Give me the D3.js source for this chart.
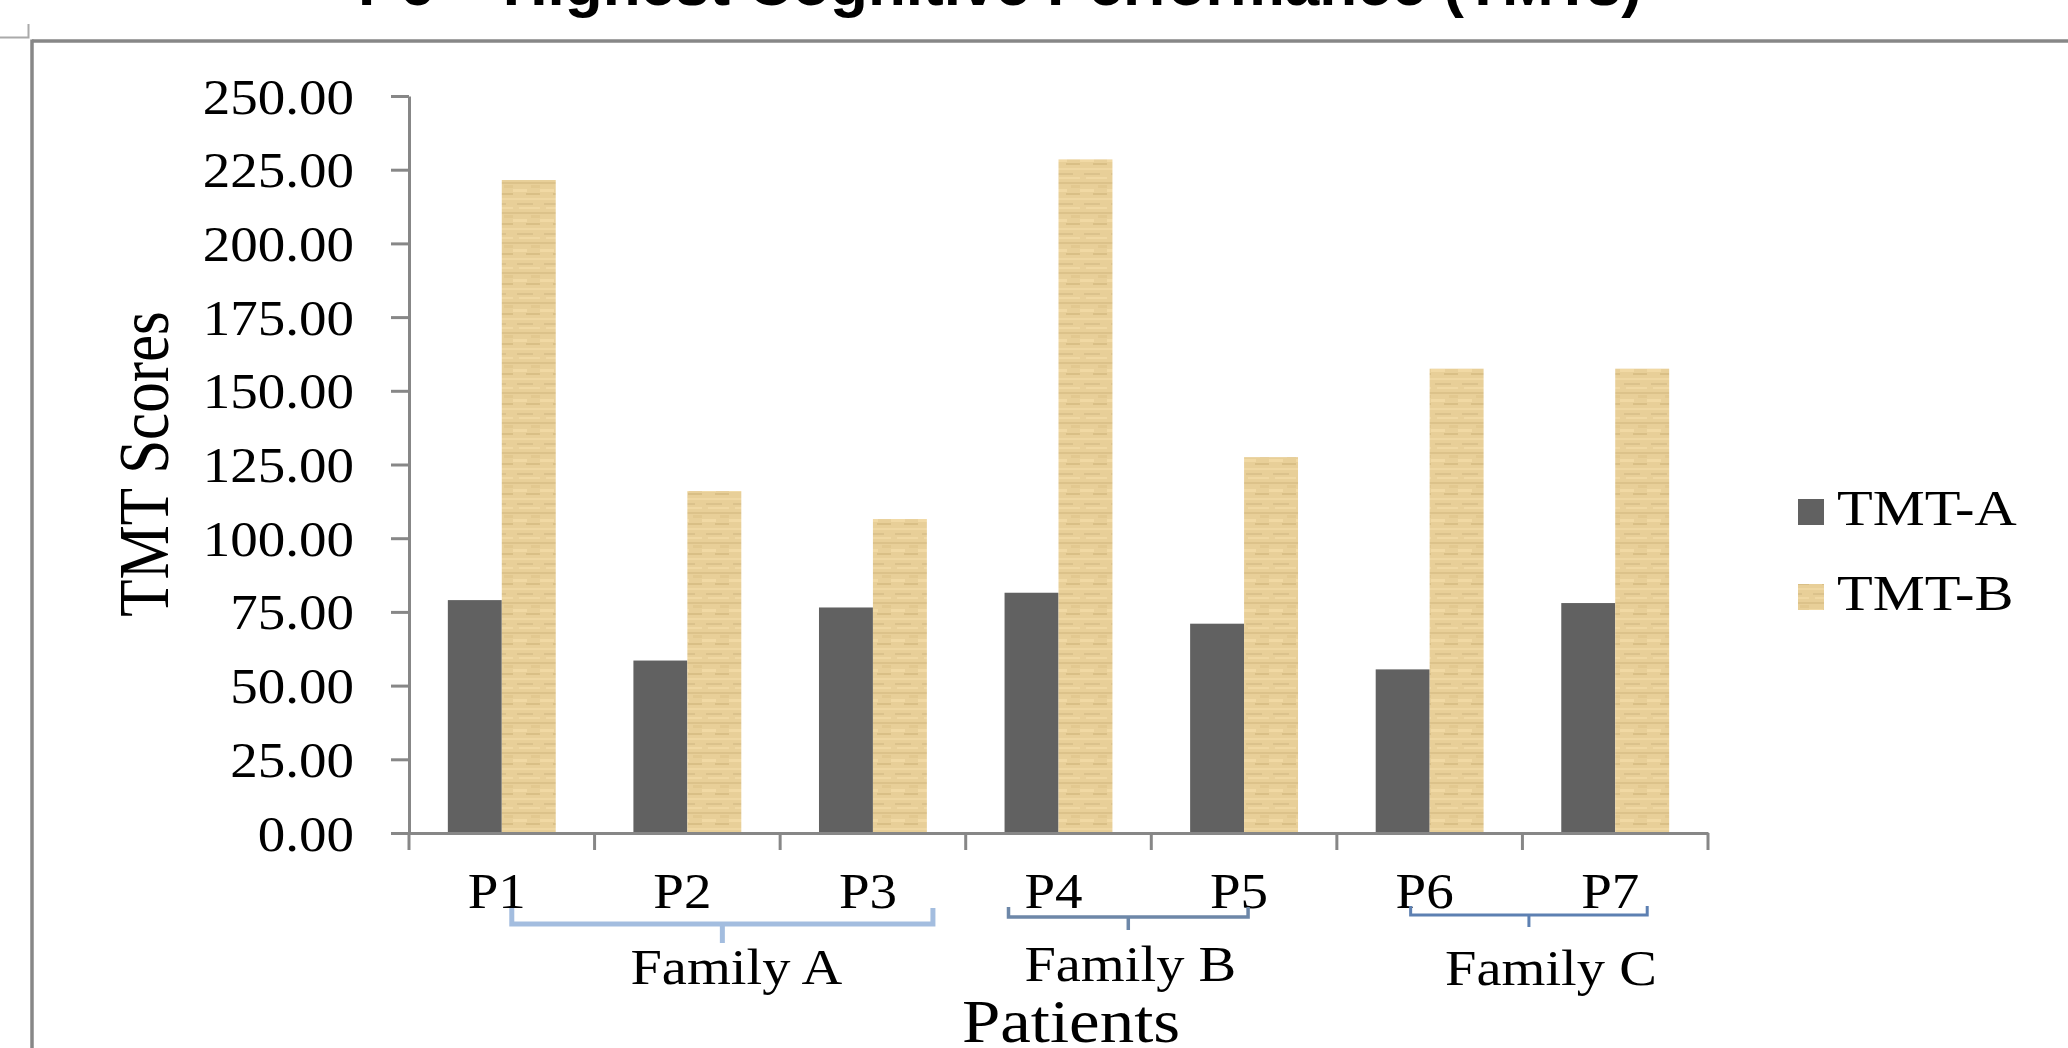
<!DOCTYPE html>
<html>
<head>
<meta charset="utf-8">
<script src="https://cdn.jsdelivr.net/npm/d3@7"></script>
<style>
  html, body { margin: 0; padding: 0; background: #ffffff; }
  svg { display: block; }
</style>
</head>
<body>
<script>
// ---------- data ----------
const categories = ["P1", "P2", "P3", "P4", "P5", "P6", "P7"];
const seriesNames = ["TMT-A", "TMT-B"];
const tmtA = [79, 58.5, 76.5, 81.5, 71, 55.5, 78];
const tmtB = [221.5, 116, 106.5, 228.5, 127.5, 157.5, 157.5];
const yTicks = [0, 25, 50, 75, 100, 125, 150, 175, 200, 225, 250];
const familyNames = ["Family A", "Family B", "Family C"];
const familyFirst = ["P1", "P4", "P6"];
const familyLast = ["P3", "P5", "P7"];
const titleText = "P6 \u2013 Highest Cognitive Performance (TMTs)";
const yTitle = "TMT Scores";
const xTitle = "Patients";

// ---------- layout / style ----------
const W = 2068, H = 1048;
const plot = { left: 409, right: 1708, top: 96, bottom: 833 };
const serif = "'Liberation Serif', 'Times New Roman', serif";
const axisColor = "#878787";
const colA = "#616161";
const sx = 1.1; // horizontal stretch of the source text
// bracket offsets (px from category centres) and styles, as hand-drawn in the source
const bracketStyle = [
  { l: 10, r: 60, y: 924, top: 908, tick: 943, color: "#a3bddf", w: 5, labelDx: 14, labelY: 984 },
  { l: -50, r: 4, y: 917, top: 907, tick: 930, color: "#6d87a8", w: 3.5, labelDx: 2, labelY: 981 },
  { l: -19, r: 32, y: 915, top: 906, tick: 927, color: "#5d80b2", w: 3, labelDx: 22, labelY: 985 }
];

const svg = d3.select("body").append("svg")
  .attr("width", W).attr("height", H)
  .style("background", "#fff");

// texture for TMT-B bars (papyrus-like)
const defs = svg.append("defs");
const pat = defs.append("pattern").attr("id", "papyrus")
  .attr("patternUnits", "userSpaceOnUse").attr("width", 27).attr("height", 30);
pat.append("rect").attr("width", 27).attr("height", 30).attr("fill", "#e8cf98");
[[0, 2, 27, 2, "#dcc28a"], [0, 9, 14, 3, "#f1d9a4"], [13, 13, 14, 2, "#d9bf86"],
 [0, 18, 27, 2, "#efd7a2"], [4, 23, 16, 2, "#dbc28c"], [18, 5, 9, 3, "#e2c88f"],
 [6, 27, 21, 2, "#f0d8a3"]].forEach(([x, y, w, h, c]) =>
  pat.append("rect").attr("x", x).attr("y", y).attr("width", w).attr("height", h).attr("fill", c));

// ---------- frame ----------
svg.append("line").attr("x1", 32).attr("x2", W).attr("y1", 41).attr("y2", 41)
  .attr("stroke", axisColor).attr("stroke-width", 3.5);
svg.append("line").attr("x1", 32).attr("x2", 32).attr("y1", 39.5).attr("y2", H)
  .attr("stroke", axisColor).attr("stroke-width", 3.5);
svg.append("path").attr("d", "M0,37.5H28.5V24").attr("fill", "none")
  .attr("stroke", "#aaaaaa").attr("stroke-width", 2);

// ---------- title (clipped at the top) ----------
svg.append("text").attr("x", 1000).attr("y", 5)
  .attr("text-anchor", "middle")
  .attr("font-family", "'Liberation Sans', Arial, sans-serif")
  .attr("font-weight", "bold").attr("font-size", 62)
  .attr("fill", "#000").text(titleText);

// ---------- scales ----------
const x = d3.scaleBand().domain(categories).range([plot.left, plot.right]).padding(0);
const x1 = d3.scaleBand().domain(seriesNames).range([0, x.bandwidth()]).paddingInner(0).paddingOuter(0.72);
const y = d3.scaleLinear().domain([0, 250]).range([plot.bottom, plot.top]);

// ---------- bars ----------
const rows = categories.map((c, i) => ({ cat: c, "TMT-A": tmtA[i], "TMT-B": tmtB[i] }));
const g = svg.append("g");
rows.forEach(r => {
  seriesNames.forEach(s => {
    g.append("rect")
      .attr("x", x(r.cat) + x1(s))
      .attr("y", y(r[s]))
      .attr("width", x1.bandwidth())
      .attr("height", y(0) - y(r[s]))
      .attr("fill", s === "TMT-A" ? colA : "url(#papyrus)");
  });
});

// ---------- y axis ----------
const yAxis = svg.append("g").attr("transform", `translate(${plot.left},0)`)
  .call(d3.axisLeft(y).tickValues(yTicks).tickFormat(d3.format(".2f")).tickSize(18).tickSizeOuter(0));
yAxis.select(".domain").attr("stroke", axisColor).attr("stroke-width", 3);
yAxis.selectAll(".tick line").attr("stroke", axisColor).attr("stroke-width", 3);
yAxis.selectAll(".tick text")
  .attr("x", 0).attr("dy", "0.34em")
  .attr("transform", `translate(-55,0) scale(${sx},1)`)
  .attr("font-family", serif).attr("font-size", 50).attr("fill", "#000");

// ---------- x axis ----------
const xAxis = svg.append("g").attr("transform", `translate(0,${plot.bottom})`)
  .call(d3.axisBottom(x).tickSize(0).tickSizeOuter(0));
xAxis.select(".domain").attr("stroke", axisColor).attr("stroke-width", 3);
xAxis.selectAll(".tick text")
  .attr("y", 0).attr("dy", 0)
  .attr("transform", `translate(-5,75) scale(${sx},1)`)
  .attr("font-family", serif).attr("font-size", 50).attr("fill", "#000");
const bounds = categories.map(c => x(c)).concat([x.range()[1]]);
xAxis.selectAll(".bound").data(bounds).enter().append("line")
  .attr("x1", d => d).attr("x2", d => d).attr("y1", 0).attr("y2", 17)
  .attr("stroke", axisColor).attr("stroke-width", 3);

// ---------- family brackets ----------
familyNames.forEach((name, i) => {
  const st = bracketStyle[i];
  const xl = x(familyFirst[i]) + x.bandwidth() / 2 + st.l;
  const xr = x(familyLast[i]) + x.bandwidth() / 2 + st.r;
  const xm = (xl + xr) / 2;
  svg.append("path")
    .attr("d", `M${xl},${st.top}V${st.y}H${xr}V${st.top}M${xm},${st.y}V${st.tick}`)
    .attr("fill", "none").attr("stroke", st.color).attr("stroke-width", st.w);
  svg.append("text")
    .attr("transform", `translate(${xm + st.labelDx},${st.labelY}) scale(1.13,1)`)
    .attr("text-anchor", "middle")
    .attr("font-family", serif).attr("font-size", 50).attr("fill", "#000")
    .text(name);
});

// ---------- axis titles ----------
svg.append("text")
  .attr("transform", `translate(1071,1042) scale(1.13,1)`)
  .attr("text-anchor", "middle")
  .attr("font-family", serif).attr("font-size", 61).attr("fill", "#000")
  .text(xTitle);
svg.append("text")
  .attr("transform", `translate(168,464) rotate(-90) scale(1,1.18)`)
  .attr("text-anchor", "middle")
  .attr("font-family", serif).attr("font-size", 61).attr("fill", "#000")
  .text(yTitle);

// ---------- legend ----------
const legend = svg.append("g");
seriesNames.forEach((s, i) => {
  const ly = [499, 584][i];
  legend.append("rect").attr("x", 1798).attr("y", ly).attr("width", 26).attr("height", 26)
    .attr("fill", i === 0 ? colA : "url(#papyrus)");
  legend.append("text")
    .attr("transform", `translate(1837,${ly + 26}) scale(1.17,1)`)
    .attr("font-family", serif).attr("font-size", 50).attr("fill", "#000")
    .text(s);
});
</script>
</body>
</html>
